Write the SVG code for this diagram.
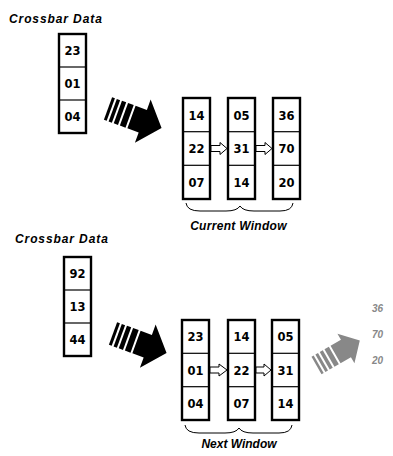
<svg xmlns="http://www.w3.org/2000/svg" width="393" height="456" viewBox="0 0 393 456">
<style>
.col{fill:#fff;stroke:#000;stroke-width:2.4}
.div{stroke:#000;stroke-width:1.2}
.num{font-family:"DejaVu Sans",sans-serif;font-weight:bold;font-size:11.5px;text-anchor:middle;fill:#000}
.lbl{font-family:"Liberation Sans",Arial,sans-serif;font-weight:bold;font-style:italic;font-size:12px;fill:#000}
.gnum{font-family:"Liberation Sans",Arial,sans-serif;font-weight:bold;font-style:italic;font-size:10px;fill:#888}
.harrow{fill:#fff;stroke:#000;stroke-width:1}
.brace{fill:none;stroke:#000;stroke-width:1}
</style>
<defs>
<g id="bigArrow">
<rect x="0" y="-12" width="3" height="24"/>
<rect x="5" y="-12" width="3.5" height="24"/>
<rect x="10.5" y="-12" width="4.5" height="24"/>
<rect x="17" y="-12" width="6" height="24"/>
<path d="M25,-12 L37,-12 L37,-23 L57,0 L37,23 L37,12 L25,12 Z"/>
</g>
<g id="grayArrow">
<rect x="0" y="-10" width="2.5" height="20"/>
<rect x="4.5" y="-10" width="3" height="20"/>
<rect x="9.5" y="-10" width="3.5" height="20"/>
<rect x="15" y="-10" width="5" height="20"/>
<path d="M22,-10 L34,-10 L34,-17 L50,0 L34,17 L34,10 L22,10 Z"/>
</g>
</defs>

<text class="lbl" x="9" y="23" letter-spacing="0.9">Crossbar Data</text>
<g id="crossbar1">
<rect class="col" x="59" y="34" width="27" height="99"/>
<line class="div" x1="59" y1="67" x2="86" y2="67"/>
<line class="div" x1="59" y1="100" x2="86" y2="100"/>
<text class="num" x="72.5" y="55">23</text>
<text class="num" x="72.5" y="88">01</text>
<text class="num" x="72.5" y="121">04</text>
</g>
<g id="bigArrow1"><use href="#bigArrow" transform="translate(108,108.5) rotate(20)"/></g>

<g id="cw1">
<rect class="col" x="183" y="98" width="27" height="101"/>
<line class="div" x1="183" y1="131.7" x2="210" y2="131.7"/>
<line class="div" x1="183" y1="165.3" x2="210" y2="165.3"/>
<text class="num" x="196.5" y="119.5">14</text>
<text class="num" x="196.5" y="153">22</text>
<text class="num" x="196.5" y="186.5">07</text>
</g>
<g id="cw2">
<rect class="col" x="228" y="98" width="27" height="101"/>
<line class="div" x1="228" y1="131.7" x2="255" y2="131.7"/>
<line class="div" x1="228" y1="165.3" x2="255" y2="165.3"/>
<text class="num" x="241.5" y="119.5">05</text>
<text class="num" x="241.5" y="153">31</text>
<text class="num" x="241.5" y="186.5">14</text>
</g>
<g id="cw3">
<rect class="col" x="273" y="98" width="27" height="101"/>
<line class="div" x1="273" y1="131.7" x2="300" y2="131.7"/>
<line class="div" x1="273" y1="165.3" x2="300" y2="165.3"/>
<text class="num" x="286.5" y="119.5">36</text>
<text class="num" x="286.5" y="153">70</text>
<text class="num" x="286.5" y="186.5">20</text>
</g>
<g id="connectors-top">
<path class="harrow" d="M211,145.5 L220,145.5 L220,142.5 L227,148.5 L220,154.5 L220,151.5 L211,151.5 Z"/>
<path class="harrow" d="M256,145.5 L265,145.5 L265,142.5 L272,148.5 L265,154.5 L265,151.5 L256,151.5 Z"/>
</g>
<path class="brace" d="M186,203 Q187,211 200,211 L226,211 Q237,211 240,206 Q243,211 254,211 L280,211 Q292,211 293,203"/>
<text class="lbl" x="238.5" y="230" text-anchor="middle" letter-spacing="0.3">Current Window</text>

<text class="lbl" x="15" y="243" letter-spacing="0.9">Crossbar Data</text>
<g id="crossbar2">
<rect class="col" x="64" y="257" width="27" height="99"/>
<line class="div" x1="64" y1="290" x2="91" y2="290"/>
<line class="div" x1="64" y1="323" x2="91" y2="323"/>
<text class="num" x="77.5" y="278">92</text>
<text class="num" x="77.5" y="311">13</text>
<text class="num" x="77.5" y="344">44</text>
</g>
<g id="bigArrow2"><use href="#bigArrow" transform="translate(113,333.5) rotate(20)"/></g>

<g id="nw1">
<rect class="col" x="182" y="320" width="27" height="100"/>
<line class="div" x1="182" y1="353.3" x2="209" y2="353.3"/>
<line class="div" x1="182" y1="386.7" x2="209" y2="386.7"/>
<text class="num" x="195.5" y="341">23</text>
<text class="num" x="195.5" y="374.5">01</text>
<text class="num" x="195.5" y="408">04</text>
</g>
<g id="nw2">
<rect class="col" x="228" y="320" width="27" height="100"/>
<line class="div" x1="228" y1="353.3" x2="255" y2="353.3"/>
<line class="div" x1="228" y1="386.7" x2="255" y2="386.7"/>
<text class="num" x="241.5" y="341">14</text>
<text class="num" x="241.5" y="374.5">22</text>
<text class="num" x="241.5" y="408">07</text>
</g>
<g id="nw3">
<rect class="col" x="272" y="320" width="27" height="100"/>
<line class="div" x1="272" y1="353.3" x2="299" y2="353.3"/>
<line class="div" x1="272" y1="386.7" x2="299" y2="386.7"/>
<text class="num" x="285.5" y="341">05</text>
<text class="num" x="285.5" y="374.5">31</text>
<text class="num" x="285.5" y="408">14</text>
</g>
<g id="connectors-bottom">
<path class="harrow" d="M210,367 L219,367 L219,364 L227,370 L219,376 L219,373 L210,373 Z"/>
<path class="harrow" d="M256,367 L264,367 L264,364 L271,370 L264,376 L264,373 L256,373 Z"/>
</g>
<path class="brace" d="M185,425 Q186,433 199,433 L225,433 Q236,433 239,428 Q242,433 253,433 L279,433 Q291,433 292,425"/>
<text class="lbl" x="239" y="448" text-anchor="middle">Next Window</text>

<g id="grayArrow1" fill="#888"><use href="#grayArrow" transform="translate(316.5,365.5) rotate(-30)"/></g>
<g id="outgoing">
<text class="gnum" x="372" y="312">36</text>
<text class="gnum" x="372" y="338">70</text>
<text class="gnum" x="372" y="364">20</text>
</g>
</svg>
